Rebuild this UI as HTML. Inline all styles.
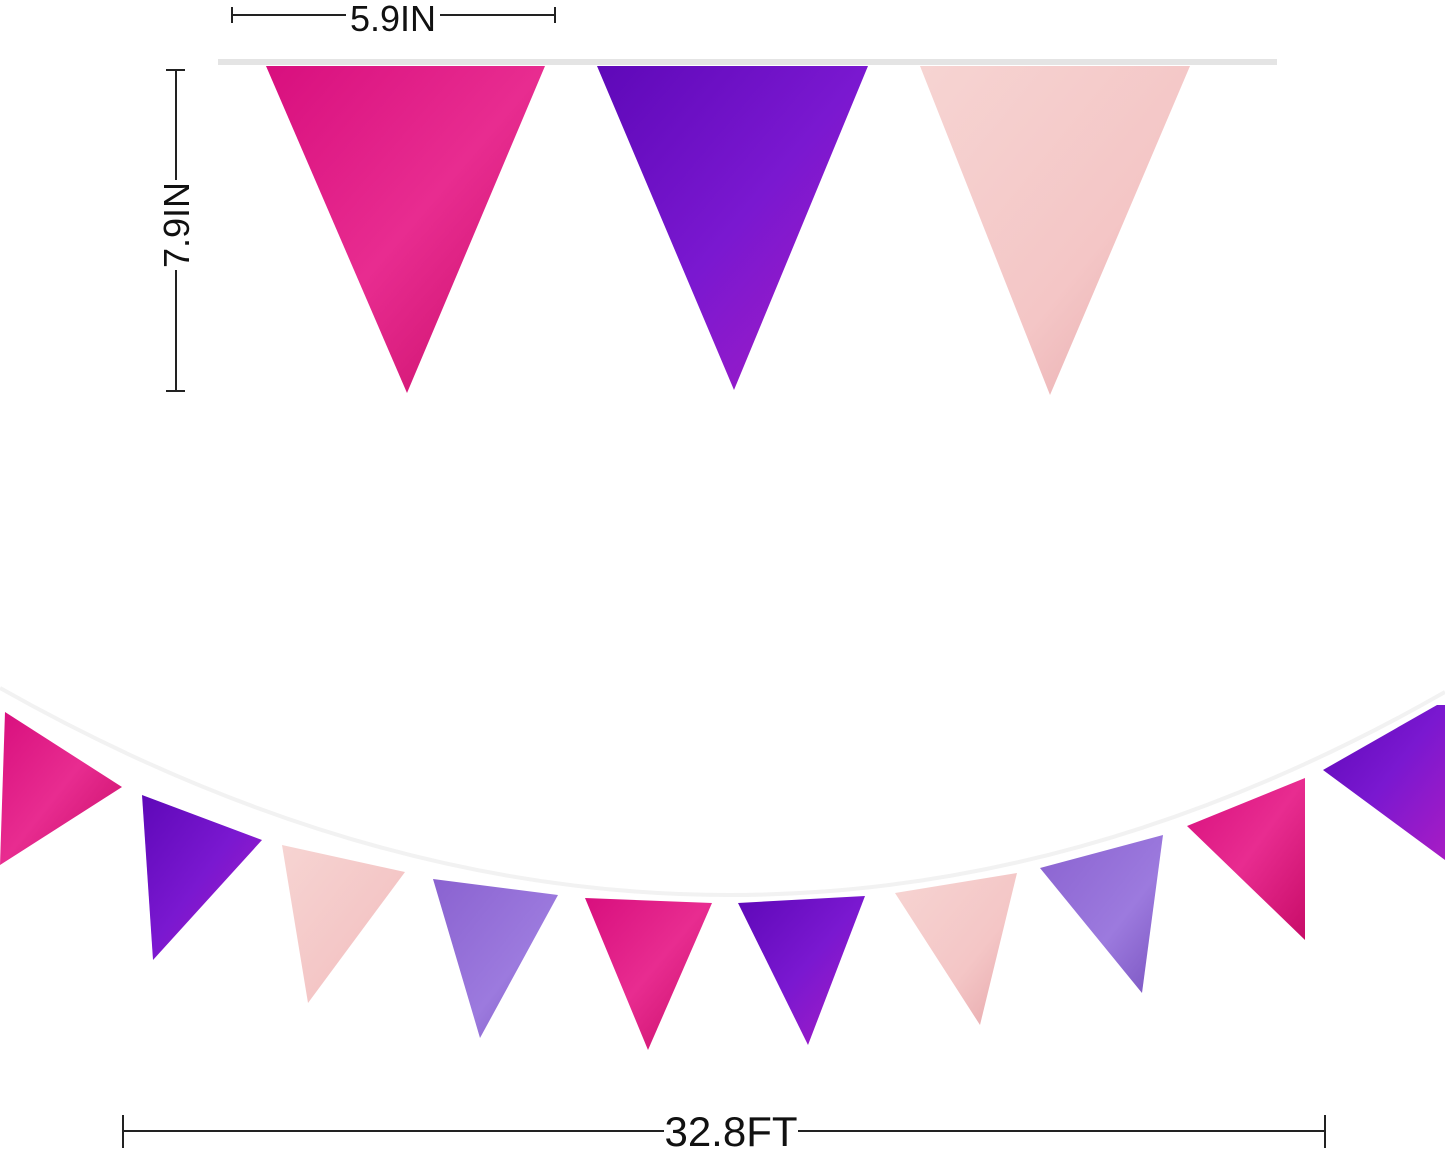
<!DOCTYPE html>
<html><head><meta charset="utf-8"><style>
html,body{margin:0;padding:0;background:#fff;}
svg{display:block}
text{font-family:"Liberation Sans",sans-serif;fill:#111}
</style></head><body>
<svg width="1445" height="1152" viewBox="0 0 1445 1152" xmlns="http://www.w3.org/2000/svg">
<defs>
<linearGradient id="pk" x1="0" y1="0" x2="1" y2="1"><stop offset="0" stop-color="#d80f7e"/><stop offset="0.5" stop-color="#e82c90"/><stop offset="1" stop-color="#c80c68"/></linearGradient>
<linearGradient id="pu" x1="0" y1="0" x2="1" y2="1"><stop offset="0" stop-color="#5e08b8"/><stop offset="0.5" stop-color="#7a18d0"/><stop offset="1" stop-color="#a81cc4"/></linearGradient>
<linearGradient id="lp" x1="0" y1="0" x2="1" y2="1"><stop offset="0" stop-color="#f6d4d2"/><stop offset="0.6" stop-color="#f4c6c6"/><stop offset="1" stop-color="#e6a6aa"/></linearGradient>
<linearGradient id="lv" x1="0" y1="0" x2="1" y2="1"><stop offset="0" stop-color="#8a62d0"/><stop offset="0.6" stop-color="#9c7ade"/><stop offset="1" stop-color="#7a54c0"/></linearGradient>
</defs>
<line x1="232" y1="15" x2="555" y2="15" stroke="#222" stroke-width="2"/>
<line x1="232" y1="7" x2="232" y2="23" stroke="#222" stroke-width="2"/>
<line x1="555" y1="7" x2="555" y2="23" stroke="#222" stroke-width="2"/>
<rect x="346" y="0" width="94" height="32" fill="#fff"/>
<text x="393" y="31" font-size="36" text-anchor="middle">5.9IN</text>
<line x1="176" y1="70" x2="176" y2="391" stroke="#222" stroke-width="2"/>
<line x1="166" y1="70" x2="185" y2="70" stroke="#222" stroke-width="2"/>
<line x1="166" y1="391" x2="185" y2="391" stroke="#222" stroke-width="2"/>
<rect x="158" y="180" width="36" height="90" fill="#fff"/>
<text x="0" y="0" font-size="36" text-anchor="middle" transform="translate(189,225) rotate(-90)">7.9IN</text>
<rect x="218" y="59" width="1059" height="6" fill="#e4e4e4"/>
<polygon points="266,66 545,66 407,393" fill="url(#pk)"/>
<polygon points="597,66 868,66 734,390" fill="url(#pu)"/>
<polygon points="920,66 1190,66 1050,395" fill="url(#lp)"/>
<path d="M0,688 Q730,1100 1445,692" fill="none" stroke="#f2f2f2" stroke-width="4"/>
<polygon points="5,712 122,787 0,865" fill="url(#pk)"/>
<polygon points="142,795 262,840 153,960" fill="url(#pu)"/>
<polygon points="282,845 405,872 308,1003" fill="url(#lp)"/>
<polygon points="433,879 558,895 480,1038" fill="url(#lv)"/>
<polygon points="585,898 712,903 648,1050" fill="url(#pk)"/>
<polygon points="738,903 865,896 808,1045" fill="url(#pu)"/>
<polygon points="895,893 1017,873 980,1025" fill="url(#lp)"/>
<polygon points="1040,868 1163,835 1142,993" fill="url(#lv)"/>
<polygon points="1187,826 1305,778 1305,940" fill="url(#pk)"/>
<polygon points="1323,770 1437,705 1445,705 1445,860" fill="url(#pu)"/>
<line x1="123" y1="1131" x2="1325" y2="1131" stroke="#222" stroke-width="2"/>
<line x1="123" y1="1115" x2="123" y2="1148" stroke="#222" stroke-width="2"/>
<line x1="1325" y1="1115" x2="1325" y2="1148" stroke="#222" stroke-width="2"/>
<rect x="664" y="1108" width="134" height="40" fill="#fff"/>
<text x="731" y="1146" font-size="42" text-anchor="middle">32.8FT</text>
</svg>
</body></html>
